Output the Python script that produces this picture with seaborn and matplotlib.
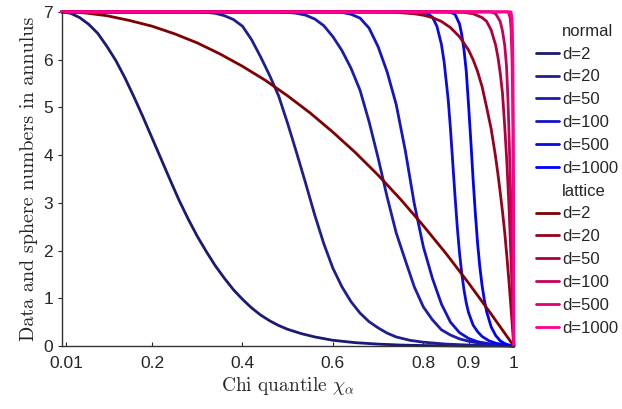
import numpy as np
import pandas as pd
import seaborn as sns
import matplotlib.pyplot as plt
from matplotlib.lines import Line2D

# values
normal_d2_x = [0.0, 0.02, 0.04, 0.06, 0.08, 0.10, 0.12, 0.14, 0.16, 0.18, 0.20, 0.22, 0.24, 0.26, 0.28, 0.30,
               0.32, 0.34, 0.36, 0.38, 0.40, 0.42, 0.44, 0.46, 0.48, 0.50, 0.53, 0.56, 0.60, 0.65, 0.70, 0.75,
               0.80, 0.90, 1.0]
normal_d2_y = [7.0, 6.97, 6.88, 6.74, 6.55, 6.28, 5.98, 5.62, 5.22, 4.80, 4.36, 3.92, 3.48, 3.05, 2.66, 2.30,
               1.98, 1.68, 1.42, 1.18, 0.98, 0.80, 0.65, 0.53, 0.43, 0.35, 0.26, 0.19, 0.12, 0.07, 0.04, 0.02,
               0.01, 0.0, 0.0]

normal_d20_x = [0.0, 0.30, 0.32, 0.34, 0.36, 0.38, 0.40, 0.42, 0.44, 0.46, 0.48, 0.50, 0.52, 0.54, 0.56, 0.58,
                0.60, 0.62, 0.64, 0.66, 0.68, 0.70, 0.72, 0.74, 0.77, 0.80, 0.85, 0.90, 0.95, 1.0]
normal_d20_y = [7.0, 7.0, 6.99, 6.97, 6.92, 6.84, 6.70, 6.42, 6.06, 5.67, 5.24, 4.66, 4.04, 3.40, 2.74, 2.14,
                1.63, 1.24, 0.93, 0.69, 0.51, 0.38, 0.27, 0.19, 0.12, 0.08, 0.04, 0.02, 0.01, 0.0]

normal_d50_x = [0.0, 0.48, 0.50, 0.52, 0.54, 0.56, 0.58, 0.60, 0.62, 0.64, 0.66, 0.68, 0.70, 0.72, 0.74, 0.76,
                0.78, 0.80, 0.82, 0.84, 0.86, 0.88, 0.90, 0.93, 0.96, 1.0]
normal_d50_y = [7.0, 7.0, 6.99, 6.97, 6.93, 6.85, 6.71, 6.48, 6.19, 5.82, 5.36, 4.70, 3.94, 3.12, 2.37, 1.80,
                1.24, 0.82, 0.55, 0.34, 0.23, 0.15, 0.10, 0.05, 0.02, 0.0]

normal_d100_x = [0.0, 0.60, 0.62, 0.64, 0.66, 0.68, 0.70, 0.72, 0.74, 0.76, 0.78, 0.80, 0.82, 0.84, 0.86, 0.88,
                 0.90, 0.92, 0.95, 1.0]
normal_d100_y = [7.0, 7.0, 6.99, 6.95, 6.87, 6.66, 6.27, 5.74, 5.06, 4.10, 2.98, 2.08, 1.42, 0.88, 0.50, 0.28,
                 0.16, 0.09, 0.04, 0.0]

normal_d500_x = [0.0, 0.78, 0.80, 0.81, 0.82, 0.83, 0.84, 0.846, 0.855, 0.860, 0.865, 0.870, 0.875, 0.880, 0.885,
                 0.890, 0.895, 0.900, 0.91, 0.92, 0.93, 0.945, 0.96, 0.98, 1.0]
normal_d500_y = [7.0, 7.0, 6.99, 6.96, 6.89, 6.70, 6.32, 5.95, 5.16, 4.55, 3.85, 3.15, 2.50, 1.95, 1.52,
                 1.17, 0.90, 0.70, 0.44, 0.30, 0.20, 0.11, 0.06, 0.02, 0.0]

normal_d1000_x = [0.0, 0.85, 0.86, 0.87, 0.88, 0.885, 0.89, 0.895, 0.90, 0.905, 0.91, 0.915, 0.92, 0.925, 0.93,
                  0.935, 0.94, 0.95, 0.96, 0.97, 0.98, 0.99, 1.0]
normal_d1000_y = [7.0, 7.0, 6.99, 6.95, 6.75, 6.52, 6.20, 5.75, 5.05, 4.30, 3.50, 2.78, 2.15, 1.65, 1.26,
                  0.96, 0.72, 0.40, 0.22, 0.11, 0.05, 0.02, 0.0]

lattice_d2_x = [0.0, 0.05, 0.1, 0.15, 0.2, 0.25, 0.3, 0.35, 0.4, 0.45, 0.5, 0.55, 0.6, 0.65, 0.7, 0.75, 0.8,
                0.85, 0.9, 0.95, 1.0]
lattice_d2_y = [7.0, 6.98, 6.92, 6.82, 6.70, 6.54, 6.35, 6.12, 5.86, 5.57, 5.24, 4.88, 4.48, 4.05, 3.58, 3.07,
                2.52, 1.94, 1.32, 0.67, 0.0]

lattice_d20_x = [0.0, 0.70, 0.74, 0.78, 0.80, 0.82, 0.84, 0.86, 0.88, 0.90, 0.91, 0.92, 0.93, 0.94, 0.95, 0.96,
                 0.965, 0.97, 0.975, 0.98, 0.985, 0.99, 0.995, 1.0]
lattice_d20_y = [7.0, 7.0, 6.99, 6.96, 6.93, 6.88, 6.80, 6.67, 6.48, 6.20, 6.00, 5.75, 5.43, 5.00, 4.55, 3.95,
                 3.60, 3.22, 2.82, 2.38, 1.85, 1.28, 0.66, 0.0]

lattice_d50_x = [0.0, 0.86, 0.89, 0.91, 0.93, 0.94, 0.95, 0.96, 0.965, 0.97, 0.975, 0.98, 0.985, 0.99, 0.995, 1.0]
lattice_d50_y = [7.0, 7.0, 6.99, 6.96, 6.88, 6.80, 6.62, 6.30, 6.05, 5.72, 5.30, 4.60, 3.80, 2.80, 1.55, 0.0]

lattice_d100_x = [0.0, 0.95, 0.96, 0.97, 0.975, 0.98, 0.984, 0.987, 0.99, 0.993, 0.996, 1.0]
lattice_d100_y = [7.0, 7.0, 6.96, 6.80, 6.60, 6.30, 5.86, 5.20, 4.30, 3.20, 1.90, 0.0]

lattice_d500_x = [0.0, 0.988, 0.992, 0.994, 0.996, 0.997, 0.998, 0.999, 1.0]
lattice_d500_y = [7.0, 7.0, 6.87, 6.65, 6.05, 5.5, 4.6, 3.1, 0.0]

lattice_d1000_x = [0.0, 0.994, 0.996, 0.997, 0.998, 0.9985, 0.999, 0.9995, 1.0]
lattice_d1000_y = [7.0, 7.0, 6.87, 6.65, 6.05, 5.5, 4.6, 3.1, 0.0]

dims = ["d=2", "d=20", "d=50", "d=100", "d=500", "d=1000"]
normal_colors = ["#1a1a72", "#1e1e8e", "#1c1caa", "#1414c6", "#0a0ae2", "#0000ff"]
lattice_colors = ["#800000", "#98001e", "#b0003a", "#c80058", "#e20074", "#ff008f"]

xticks = [0.01, 0.2, 0.4, 0.6, 0.8, 0.9, 1]
xticklabels = ["0.01", "0.2", "0.4", "0.6", "0.8", "0.9", "1"]

normal = [(normal_d2_x, normal_d2_y), (normal_d20_x, normal_d20_y), (normal_d50_x, normal_d50_y),
          (normal_d100_x, normal_d100_y), (normal_d500_x, normal_d500_y), (normal_d1000_x, normal_d1000_y)]
lattice = [(lattice_d2_x, lattice_d2_y), (lattice_d20_x, lattice_d20_y), (lattice_d50_x, lattice_d50_y),
           (lattice_d100_x, lattice_d100_y), (lattice_d500_x, lattice_d500_y), (lattice_d1000_x, lattice_d1000_y)]

sns.set_style("ticks")
plt.rcParams['font.family'] = ['Liberation Sans', 'DejaVu Sans']
plt.rcParams['mathtext.fontset'] = 'cm'

fig = plt.figure(figsize=(6.22, 4.09), dpi=100)
ax = fig.add_axes([0.099, 0.154, 0.727, 0.817])

for (xs, ys), c in zip(normal + lattice, normal_colors + lattice_colors):
    df = pd.DataFrame({"x": xs, "y": ys})
    sns.lineplot(data=df, x="x", y="y", color=c, lw=2.0, ax=ax, sort=False, estimator=None, legend=False)

for ln in ax.lines:
    ln.set_clip_on(False)
    ln.set_solid_joinstyle('round')

ax.set_xlim(0, 1)
ax.set_ylim(0, 7)
ax.set_xticks(xticks)
ax.set_xticklabels(xticklabels)
ax.set_yticks(range(8))
ax.tick_params(axis='x', direction='in', length=3, labelsize=12.5, colors='#262626', pad=7)
ax.tick_params(axis='y', direction='out', length=3, labelsize=12.5, colors='#262626', pad=3)
sns.despine(ax=ax)
for s in ['left', 'bottom']:
    ax.spines[s].set_color('#333333')
    ax.spines[s].set_linewidth(1.0)

ax.set_xlabel(r"Chi quantile $\chi_\alpha$", fontfamily='cmr10', fontsize=14, labelpad=3)
ax.set_ylabel("Data and sphere numbers in annulus", fontfamily='cmr10', fontsize=14.5, labelpad=4)

blank = Line2D([], [], color='none')
handles = [blank] + [Line2D([], [], color=c, lw=2.0) for c in normal_colors]
handles += [blank] + [Line2D([], [], color=c, lw=2.0) for c in lattice_colors]
labels = ["normal"] + dims + ["lattice"] + dims
fig.legend(handles, labels, loc='upper left', bbox_to_anchor=(0.861, 0.942), frameon=False,
           fontsize=12, handlelength=1.4, handletextpad=0.2, labelspacing=0.47,
           borderpad=0, borderaxespad=0)

fig.savefig("out.png", dpi=100)
